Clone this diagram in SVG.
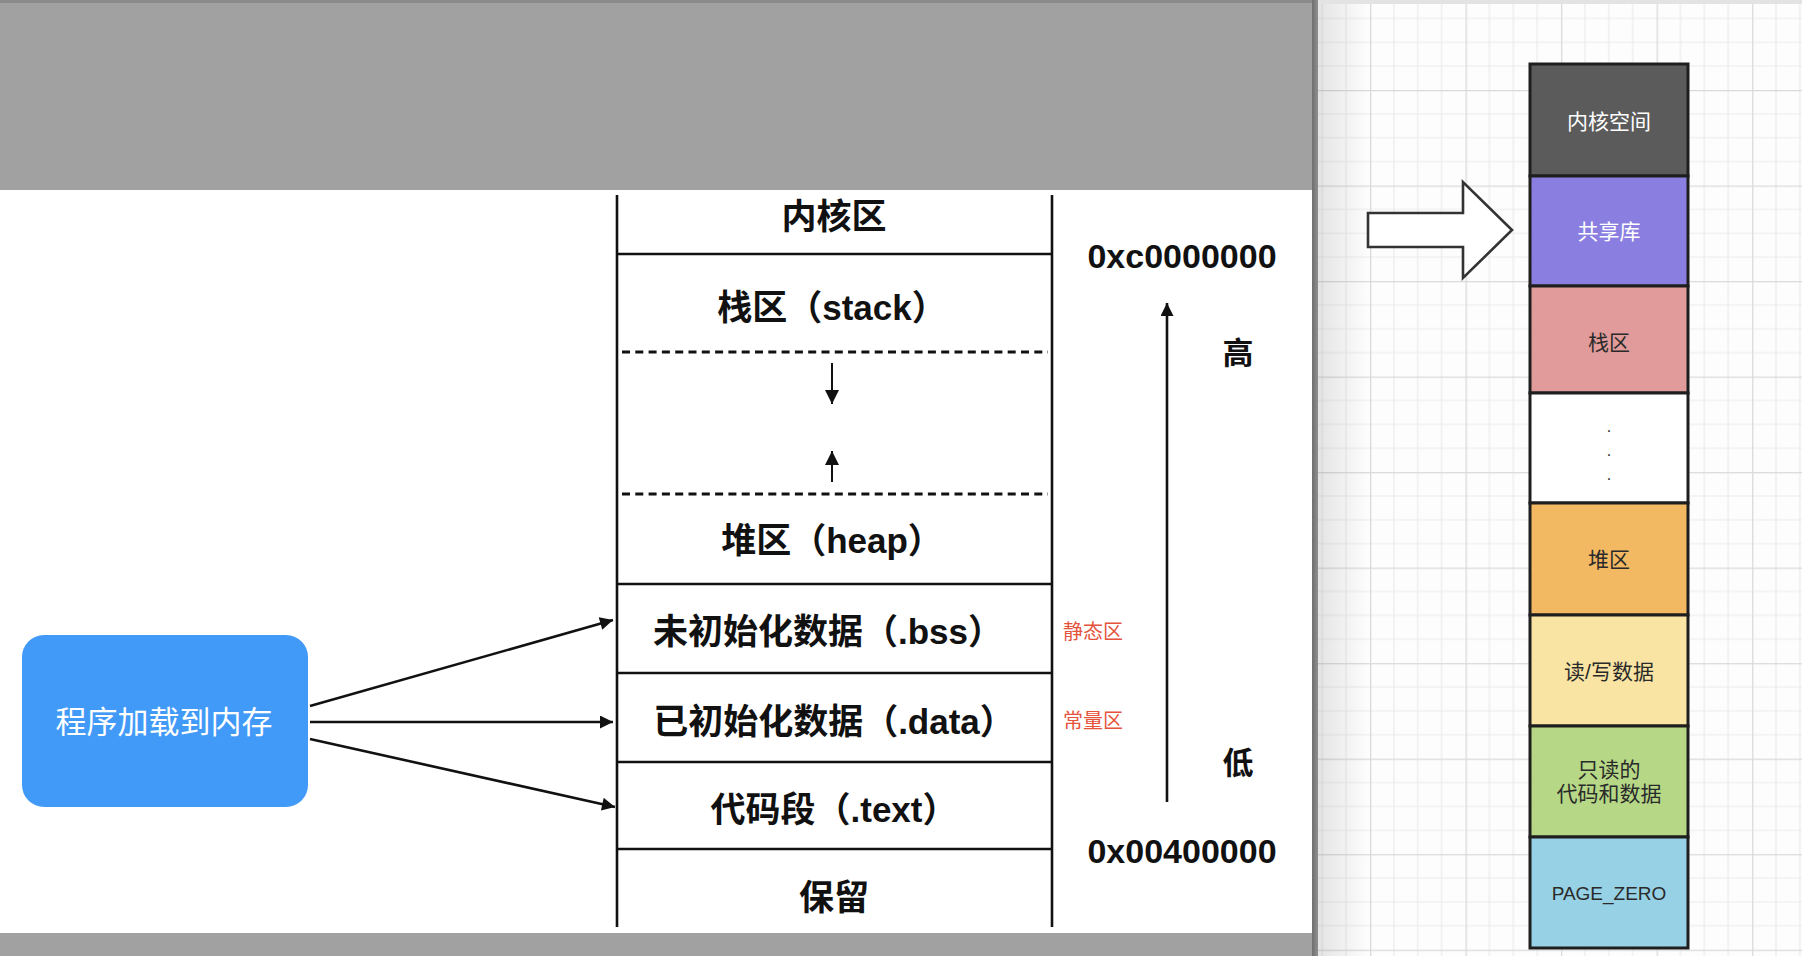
<svg xmlns="http://www.w3.org/2000/svg" width="1802" height="956" viewBox="0 0 1802 956">
<style>
.ln{stroke:#111;stroke-width:2.6;fill:none}
.dash{stroke:#111;stroke-width:3;fill:none;stroke-dasharray:8 5.3}
.conn{stroke:#111;stroke-width:2.6;fill:none}
.big{font-family:"Liberation Sans","Noto Sans CJK SC",sans-serif;font-weight:bold;font-size:35px;fill:#111;text-anchor:middle}
.addr{font-family:"Liberation Sans","Noto Sans CJK SC",sans-serif;font-weight:bold;font-size:34px;fill:#111;text-anchor:middle}
.red{font-family:"Noto Sans CJK SC",sans-serif;font-size:20px;fill:#e5533d}
.seg{stroke:#1e1e1e;stroke-width:3}
.st{font-family:"Liberation Sans","Noto Sans CJK SC",sans-serif;font-size:21px;text-anchor:middle;fill:#2a2a2a}
.stw{fill:#ffffff}
</style>
<defs>
<marker id="ah" viewBox="0 0 10 10" refX="10" refY="5" markerWidth="6" markerHeight="5" markerUnits="strokeWidth" orient="auto">
<path d="M0,0 L10,5 L0,10 z" fill="#111"/>
</marker>
<marker id="ahs" viewBox="0 0 10 10" refX="10" refY="5" markerWidth="7" markerHeight="7" markerUnits="strokeWidth" orient="auto">
<path d="M0,0 L10,5 L0,10 z" fill="#111"/>
</marker>
<pattern id="grid" patternUnits="userSpaceOnUse" x="1370" y="90" width="95.52" height="95.52">
<rect width="95.52" height="95.52" fill="#fdfdfd"/>
<path d="M23.88,0 V95.52 M47.76,0 V95.52 M71.64,0 V95.52 M0,23.88 H95.52 M0,47.76 H95.52 M0,71.64 H95.52" stroke="#ebebeb" stroke-width="1.2"/>
<path d="M0.6,0 V95.52 M0,0.6 H95.52" stroke="#dadada" stroke-width="1.4"/>
</pattern>
<linearGradient id="shadow" x1="0" y1="0" x2="1" y2="0">
<stop offset="0" stop-color="#000" stop-opacity="0.10"/>
<stop offset="1" stop-color="#000" stop-opacity="0"/>
</linearGradient>
<linearGradient id="edge" x1="0" y1="0" x2="1" y2="0">
<stop offset="0" stop-color="#6f6f6f"/>
<stop offset="1" stop-color="#8f8f8f"/>
</linearGradient>
</defs>

<!-- backgrounds -->
<rect x="0" y="0" width="1312" height="956" fill="#a1a1a1"/>
<rect x="0" y="0" width="1312" height="3" fill="#8a8a8a"/>
<rect x="0" y="190" width="1312" height="743" fill="#ffffff"/>
<rect x="1312" y="0" width="490" height="956" fill="url(#grid)"/>
<rect x="1318" y="0" width="50" height="956" fill="url(#shadow)"/>
<rect x="1312" y="0" width="6" height="956" fill="url(#edge)"/>
<rect x="1318" y="0" width="484" height="4" fill="#e3e3e3"/>

<!-- memory table -->
<g id="memory-table">
<line class="ln" x1="617" y1="195" x2="617" y2="927"/>
<line class="ln" x1="1052" y1="195" x2="1052" y2="927"/>
<line class="ln" x1="617" y1="254" x2="1052" y2="254"/>
<line class="dash" x1="622" y1="352" x2="1048" y2="352"/>
<line class="dash" x1="622" y1="494" x2="1048" y2="494"/>
<line class="ln" x1="617" y1="584" x2="1052" y2="584"/>
<line class="ln" x1="617" y1="673" x2="1052" y2="673"/>
<line class="ln" x1="617" y1="762" x2="1052" y2="762"/>
<line class="ln" x1="617" y1="849" x2="1052" y2="849"/>
</g>
<g id="kernel"><text class="big" x="834" y="229">内核区</text></g>
<g id="stack"><text class="big" x="832" y="320">栈区（stack）</text></g>
<g id="growth">
<line x1="832" y1="363" x2="832" y2="404" stroke="#111" stroke-width="2" marker-end="url(#ahs)"/>
<line x1="832" y1="482" x2="832" y2="451" stroke="#111" stroke-width="2" marker-end="url(#ahs)"/>
</g>
<g id="heap"><text class="big" x="832" y="553">堆区（heap）</text></g>
<g id="bss"><text class="big" x="828" y="644">未初始化数据（.bss）</text></g>
<g id="data"><text class="big" x="834" y="734">已初始化数据（.data）</text></g>
<g id="text-seg"><text class="big" x="834" y="822">代码段（.text）</text></g>
<g id="reserved"><text class="big" x="834" y="910">保留</text></g>

<g id="labels">
<text class="red" x="1063" y="639">静态区</text>
<text class="red" x="1063" y="728">常量区</text>
<text class="addr" x="1182" y="268">0xc0000000</text>
<text class="addr" x="1182" y="863">0x00400000</text>
<text class="big" x="1238" y="364" style="font-size:31px">高</text>
<text class="big" x="1238" y="774" style="font-size:31px">低</text>
</g>

<!-- loader node -->
<g id="loader">
<rect x="22" y="635" width="286" height="172" rx="22" ry="22" fill="#419af7"/>
<text x="164" y="733" font-family="Noto Sans CJK SC, sans-serif" font-size="31" fill="#ffffff" text-anchor="middle">程序加载到内存</text>
</g>

<!-- connectors -->
<g id="connectors">
<line class="conn" x1="310" y1="706" x2="613" y2="620" marker-end="url(#ah)"/>
<line class="conn" x1="310" y1="722" x2="613" y2="722" marker-end="url(#ah)"/>
<line class="conn" x1="310" y1="739" x2="615" y2="807" marker-end="url(#ah)"/>
<line class="conn" x1="1167" y1="802" x2="1167" y2="303" marker-end="url(#ah)"/>
</g>

<!-- right panel -->
<g id="big-arrow">
<polygon points="1368,213 1463,213 1463,182 1512,230 1463,278 1463,247 1368,247" fill="#ffffff" stroke="#333" stroke-width="2.6" stroke-linejoin="miter"/>
</g>
<g id="seg-kernel"><rect class="seg" x="1530" y="64" width="158" height="112" fill="#5b5b5b"/><text class="st stw" x="1609" y="129">内核空间</text></g>
<g id="seg-shared"><rect class="seg" x="1530" y="176" width="158" height="110" fill="#8a7fe0"/><text class="st stw" x="1609" y="239">共享库</text></g>
<g id="seg-stack"><rect class="seg" x="1530" y="286" width="158" height="107" fill="#e09b9a"/><text class="st" x="1609" y="350">栈区</text></g>
<g id="seg-gap"><rect class="seg" x="1530" y="393" width="158" height="110" fill="#ffffff"/>
<text class="st" x="1609" y="432" style="font-size:16px">.</text>
<text class="st" x="1609" y="456" style="font-size:16px">.</text>
<text class="st" x="1609" y="480" style="font-size:16px">.</text>
</g>
<g id="seg-heap"><rect class="seg" x="1530" y="503" width="158" height="112" fill="#f2b862"/><text class="st" x="1609" y="567">堆区</text></g>
<g id="seg-rw"><rect class="seg" x="1530" y="615" width="158" height="111" fill="#f9e4a3"/><text class="st" x="1609" y="679">读/写数据</text></g>
<g id="seg-ro"><rect class="seg" x="1530" y="726" width="158" height="111" fill="#b6d886"/><text class="st" x="1609" y="777">只读的</text><text class="st" x="1609" y="801">代码和数据</text></g>
<g id="seg-zero"><rect class="seg" x="1530" y="837" width="158" height="111" fill="#97d1e5"/><text class="st" x="1609" y="900" style="font-size:19px">PAGE_ZERO</text></g>
</svg>
